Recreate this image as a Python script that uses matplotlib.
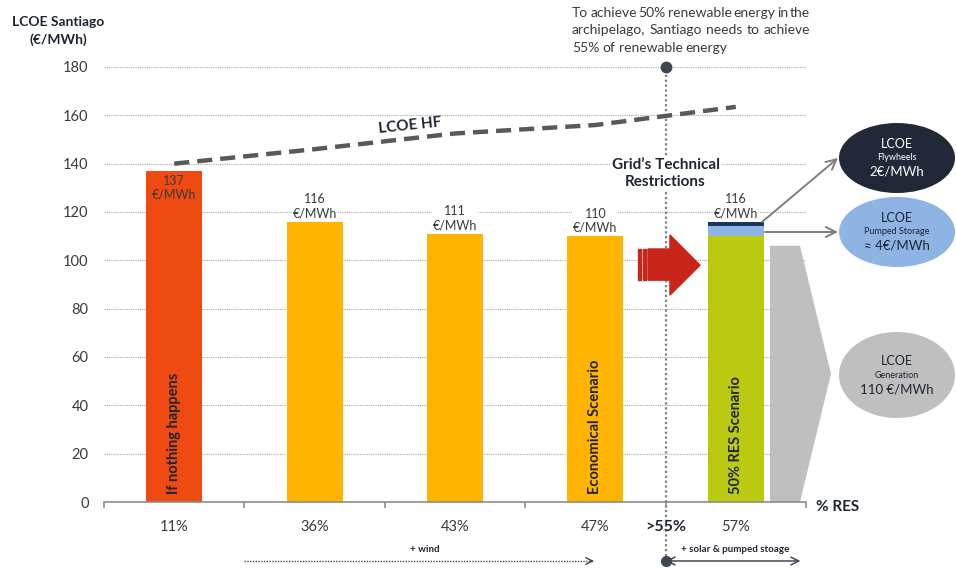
import matplotlib
matplotlib.use('Agg')
import matplotlib.pyplot as plt
from matplotlib.patches import Polygon, Ellipse, Rectangle, FancyArrowPatch
from matplotlib.transforms import IdentityTransform
import numpy as np

plt.rcParams['font.family'] = ['Lato', 'DejaVu Sans']

# ---------------- data ----------------
categories = ['11%', '36%', '43%', '47%', '57%']
lcoe_values = [137, 116, 111, 110]
res_generation = 110
res_pumped = 4
res_flywheels = 2
bar_labels = ['137', '116', '111', '110', '116']
scenario_names = ['If nothing happens', '', '', 'Economical Scenario', '50% RES Scenario']
lcoe_hf = [140, 146, 152.5, 156, 163.5]
yticks = [0, 20, 40, 60, 80, 100, 120, 140, 160, 180]
gen_share_bar = 106  # grey "generation" block height

W, H = 956, 569
fig = plt.figure(figsize=(W / 100, H / 100), dpi=100)
L, R, T, B = 104, 806, 67, 502
ax = fig.add_axes([L / W, 1 - B / H, (R - L) / W, (B - T) / H])
ax.set_xlim(0, 5)
ax.set_ylim(0, 180)

ID = IdentityTransform()
def D(px, py):
    return (px, H - py)

txt = '#3a3a3a'

# grid & axes
ax.set_yticks(yticks)
ax.set_yticklabels([str(v) for v in yticks], fontsize=10.5, color=txt)
ax.tick_params(axis='y', length=0, pad=11)
for v in yticks[1:]:
    ax.axhline(v, color='#a8a8a8', lw=0.8, ls=(0, (1, 1)), zorder=0)
for s in ['left', 'right', 'top']:
    ax.spines[s].set_visible(False)
ax.spines['bottom'].set_color('#8c8c8c')
ax.spines['bottom'].set_linewidth(1.2)
ax.set_xticks(range(6))
ax.set_xticklabels([])
ax.tick_params(axis='x', length=4, color='#8c8c8c', width=1.2)

xc = np.arange(5) + 0.5
bw = 0.4
colors = ['#EF4A12', '#FFB400', '#FFB400', '#FFB400']
ax.bar(xc[:4], lcoe_values, width=bw, color=colors, zorder=2)
ax.bar(xc[4], res_generation, width=bw, color='#BBCA10', zorder=2)
ax.bar(xc[4], res_pumped, bottom=res_generation, width=bw, color='#8DB4E2', zorder=2)
ax.bar(xc[4], res_flywheels, bottom=res_generation + res_pumped, width=bw, color='#17375E', zorder=2)

totals = lcoe_values + [res_generation + res_pumped + res_flywheels]
for i, (x, v, lab) in enumerate(zip(xc, totals, bar_labels)):
    if i == 0:
        ax.text(x, v - 1.5, lab + '\n€/MWh', ha='center', va='top', fontsize=9,
                color=txt, linespacing=1.2, zorder=4)
    else:
        ax.text(x, v + 1.0, lab + '\n€/MWh', ha='center', va='bottom', fontsize=9,
                color=txt, linespacing=1.2, zorder=4,
                bbox=dict(facecolor='white', edgecolor='none', pad=0.5))
for x, name in zip(xc, scenario_names):
    if name:
        ax.text(x, 3.5, name, rotation=90, ha='center', va='bottom', fontsize=10.5,
                fontweight='bold', color='#1e2533', zorder=4)

# grey generation block with chevron
gx0, gx1, gtip = (770 - L) / 140.4, (800 - L) / 140.4, (831 - L) / 140.4
ax.add_patch(Polygon([(gx0, 0), (gx0, gen_share_bar), (gx1, gen_share_bar),
                      (gtip, gen_share_bar / 2), (gx1, 0)], closed=True,
                     facecolor='#BFBFBF', edgecolor='none', clip_on=False, zorder=2))

# LCOE HF dashed line
ax.plot(xc, lcoe_hf, color='#595959', lw=3.2, dashes=(3.4, 1.8), zorder=3,
        solid_capstyle='butt')
ax.text(2.18, 155.5, 'LCOE HF', rotation=6, ha='center', va='center', fontsize=11,
        fontweight='bold', color='#1e2533', zorder=4)

# red arrow
ay = 98
red = '#C9251B'
def px2x(p):
    return (p - L) / 140.4
ax.add_patch(Rectangle((px2x(638), 91.8), px2x(641) - px2x(638), 12.9, color=red, zorder=3, clip_on=False))
ax.add_patch(Rectangle((px2x(643), 91.8), px2x(646) - px2x(643), 12.9, color=red, zorder=3, clip_on=False))
ax.add_patch(Polygon([(px2x(648), 91.8), (4.031, 91.8), (4.031, 85.6), (4.245, ay),
                      (4.031, 110.5), (4.031, 104.7), (px2x(648), 104.7)], closed=True,
                     color=red, zorder=3, clip_on=False))

# vertical restriction line
yb = (B - 561) / 2.417
ax.plot([4, 4], [yb, 180], color='#808080', lw=1.6, ls=(0, (1, 1.2)), clip_on=False, zorder=1)
ax.plot([4], [180], 'o', ms=7.5, color='#404652', clip_on=False, zorder=5)
ax.text(4, 136, "Grid’s Technical\nRestrictions", ha='center', va='center', fontsize=11,
        fontweight='bold', color='#1e2533', linespacing=1.3, zorder=4,
        bbox=dict(facecolor='white', edgecolor='none', pad=1))

# x labels
ylab = (B - 527) / 2.417
for x, c in zip(xc, categories):
    ax.text(x, ylab, c, ha='center', va='center', fontsize=10.5, color=txt, clip_on=False)
ax.text(4, ylab, '>55%', ha='center', va='center', fontsize=11.5, fontweight='bold',
        color='#1e2533', clip_on=False)
ax.text((838 - L) / 140.4, (B - 507) / 2.417, '% RES', ha='center', va='center', fontsize=11,
        fontweight='bold', color='#1e2533', clip_on=False)

# bottom annotations
ytx = (B - 550) / 2.417
ax.text((425 - L) / 140.4, ytx, '+ wind', ha='center', va='center', fontsize=7,
        fontweight='bold', color='#1e2533', clip_on=False)
ax.plot([1.0, 3.49], [yb, yb], color='#404652', lw=1, ls=(0, (1, 1)), clip_on=False)
ax.annotate('', xy=(3.51, yb), xytext=(3.44, yb),
            arrowprops=dict(arrowstyle='->', color='#404652', lw=1, mutation_scale=12),
            annotation_clip=False)
ax.text((735 - L) / 140.4, ytx, '+ solar & pumped stoage', ha='center', va='center',
        fontsize=7, fontweight='bold', color='#1e2533', clip_on=False)
ax.annotate('', xy=(4.96, yb), xytext=(4.0, yb),
            arrowprops=dict(arrowstyle='<->', color='#404652', lw=1.1, mutation_scale=14,
                            shrinkA=0, shrinkB=0),
            annotation_clip=False)
ax.plot([4], [yb], 'o', ms=7, color='#404652', clip_on=False, zorder=5)

# y axis title
fig.text(58 / W, 1 - 31 / H, 'LCOE Santiago\n(€/MWh)', ha='center', va='center',
         fontsize=10, fontweight='bold', color='#1e2533', linespacing=1.6)

# ellipses
def ell(cx, cy, w, h, fc, lines, tc):
    fig.add_artist(Ellipse(D(cx, cy), w, h, transform=ID, facecolor=fc, edgecolor='none'))
    sizes = [9, 6.5, 9.5]
    offs = [-14, 0, 14]
    for s, o, t in zip(sizes, offs, lines):
        fig.text(cx / W, 1 - (cy + o) / H, t, ha='center', va='center', fontsize=s, color=tc)

ell(897, 158, 116, 70, '#222838', ['LCOE', 'Flywheels', '2€/MWh'], 'white')
ell(897, 232, 116, 70, '#8DB4E2', ['LCOE', 'Pumped Storage', '≈ 4€/MWh'], '#1e2533')
ell(897, 375, 116, 86, '#BFBFBF', ['LCOE', 'Generation', '110 €/MWh'], '#1e2533')

for a, b in [((762, 222), (838, 158)), ((765, 232), (838, 232))]:
    fig.add_artist(FancyArrowPatch(D(*a), D(*b), transform=ID, arrowstyle='->',
                                   mutation_scale=18, color='#7f7f7f', lw=1.4,
                                   shrinkA=0, shrinkB=0))

# justified annotation text
lines = ['To achieve 50% renewable energy in the',
         'archipelago, Santiago needs to achieve',
         '55% of renewable energy']
x0, x1 = 572, 810
renderer = fig.canvas.get_renderer()
for li, line in enumerate(lines):
    py = 13 + li * 17.5
    words = line.split(' ')
    objs = [fig.text(0, 1 - py / H, w_, ha='left', va='center', fontsize=10, color=txt)
            for w_ in words]
    widths = [o.get_window_extent(renderer).width for o in objs]
    if li < len(lines) - 1:
        gap = (x1 - x0 - sum(widths)) / (len(words) - 1)
    else:
        gap = 3.2
    x = x0
    for o, wdt in zip(objs, widths):
        o.set_x(x / W)
        x += wdt + gap

fig.savefig('out.png', dpi=100)
